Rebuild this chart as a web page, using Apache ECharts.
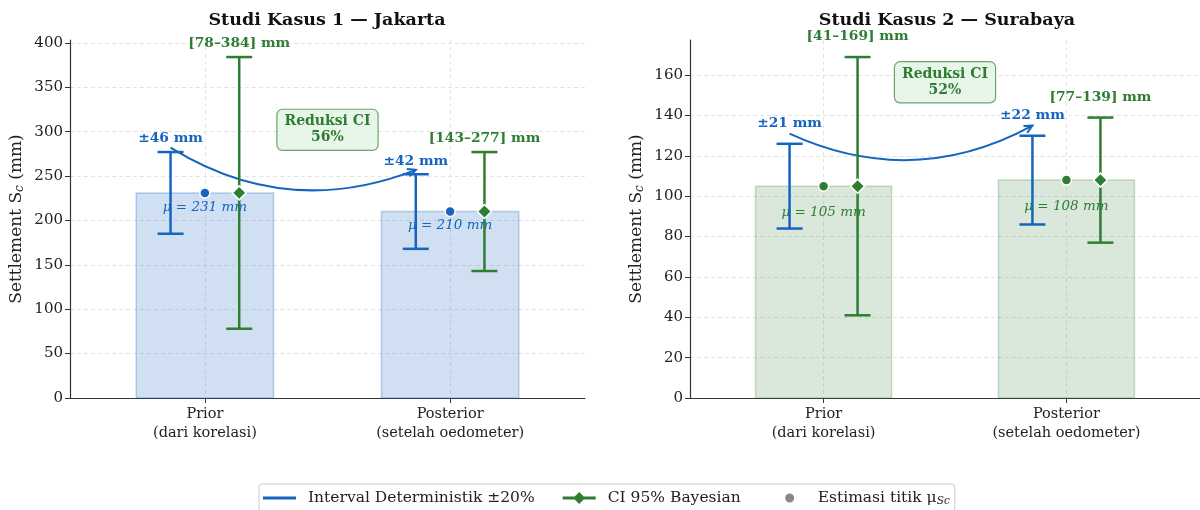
<!DOCTYPE html>
<html>
<head>
<meta charset="utf-8">
<title>Studi Kasus Settlement</title>
<script src="https://cdn.jsdelivr.net/npm/echarts@6/dist/echarts.min.js"></script>
<style>
  html, body { margin: 0; padding: 0; background: #fff; }
  #chart { width: 1200px; height: 510px; }
</style>
</head>
<body>
<div id="chart"></div>
<script>
const categories = ['Prior\n(dari korelasi)', 'Posterior\n(setelah oedometer)'];
const panelTitles = ['Studi Kasus 1 — Jakarta', 'Studi Kasus 2 — Surabaya'];

const muJakarta = [231, 210];
const detHalfJakarta = [46, 42];
const ciLowJakarta = [78, 143];
const ciHighJakarta = [384, 277];

const muSurabaya = [105, 108];
const detHalfSurabaya = [21, 22];
const ciLowSurabaya = [41, 77];
const ciHighSurabaya = [169, 139];

const ciReduction = [56, 52];

const DET_NAME = 'Interval Deterministik ±20%';
const CI_NAME = 'CI 95% Bayesian';
const DOT_NAME = 'Estimasi titik μSc';

const BLUE = '#1565c0';
const GREEN = '#2e7d32';
const SERIF = "'DejaVu Serif', serif";
const DET_SHIFT = -0.14;
const CI_SHIFT = 0.14;

const panels = [
  {
    mu: muJakarta, half: detHalfJakarta, lo: ciLowJakarta, hi: ciHighJakarta, reduction: ciReduction[0],
    color: BLUE, fill: 'rgba(21,101,192,0.2)', edge: 'rgba(21,101,192,0.28)',
    yMax: 403.2, yStep: 50, left: 70, width: 515, titleX: 327,
    detLift: 15, ciLift: 15, muDrop: 16, arrowLift: 5, box: [0.5, 302]
  },
  {
    mu: muSurabaya, half: detHalfSurabaya, lo: ciLowSurabaya, hi: ciHighSurabaya, reduction: ciReduction[1],
    color: GREEN, fill: 'rgba(46,125,50,0.18)', edge: 'rgba(46,125,50,0.25)',
    yMax: 177.45, yStep: 20, left: 690, width: 514, titleX: 947,
    detLift: 10, ciLift: 10, muDrop: 13, arrowLift: 5, box: [0.5, 156.5]
  }
];

function textStyle(color, size, weight, style) {
  return {
    fill: color, fontSize: size, fontWeight: weight || 'normal', fontStyle: style || 'normal',
    fontFamily: SERIF, align: 'center', verticalAlign: 'middle'
  };
}

function barItem(panel) {
  return (params, api) => {
    const x = api.value(0), mu = api.value(1);
    const tl = api.coord([x - 0.28, mu]);
    const br = api.coord([x + 0.28, 0]);
    return {
      type: 'rect',
      shape: { x: tl[0], y: tl[1], width: br[0] - tl[0], height: br[1] - tl[1] },
      style: { fill: panel.fill, stroke: panel.edge, lineWidth: 1.5 }
    };
  };
}

function muTextItem(panel) {
  return (params, api) => {
    const x = api.value(0), mu = api.value(1);
    const p = api.coord([x, mu - panel.muDrop]);
    return {
      type: 'text', x: p[0], y: p[1],
      style: Object.assign({ text: 'μ = ' + mu + ' mm' }, textStyle(panel.color, 13.5, 'normal', 'italic'))
    };
  };
}

function errorBarItem(color, labelOf, lift) {
  return (params, api) => {
    const x = api.value(0), lo = api.value(1), hi = api.value(2);
    const pLo = api.coord([x, lo]);
    const pHi = api.coord([x, hi]);
    const pLab = api.coord([x, hi + lift]);
    const line = { stroke: color, lineWidth: 2.5 };
    return {
      type: 'group',
      children: [
        { type: 'line', shape: { x1: pLo[0], y1: pLo[1], x2: pHi[0], y2: pHi[1] }, style: line },
        { type: 'line', shape: { x1: pLo[0] - 13, y1: pLo[1], x2: pLo[0] + 13, y2: pLo[1] }, style: line },
        { type: 'line', shape: { x1: pHi[0] - 13, y1: pHi[1], x2: pHi[0] + 13, y2: pHi[1] }, style: line },
        {
          type: 'text', x: pLab[0], y: pLab[1],
          style: Object.assign({ text: labelOf(params.dataIndex, lo, hi) }, textStyle(color, 13.8, 'bold'))
        }
      ]
    };
  };
}

function arrowItem(color) {
  return (params, api) => {
    const a = api.coord([api.value(0), api.value(1)]);
    const b = api.coord([api.value(2), api.value(3)]);
    const dx = b[0] - a[0], dy = b[1] - a[1];
    const c = [(a[0] + b[0]) / 2 - 0.25 * dy, (a[1] + b[1]) / 2 + 0.25 * dx];
    let ux = b[0] - c[0], uy = b[1] - c[1];
    const n = Math.hypot(ux, uy);
    ux /= n; uy /= n;
    const head = (ang) => {
      const cs = Math.cos(ang), sn = Math.sin(ang);
      return [b[0] - 9 * (ux * cs - uy * sn), b[1] - 9 * (ux * sn + uy * cs)];
    };
    return {
      type: 'group',
      children: [
        {
          type: 'bezierCurve',
          shape: { x1: a[0], y1: a[1], x2: b[0], y2: b[1], cpx1: c[0], cpy1: c[1] },
          style: { stroke: color, lineWidth: 2, fill: 'none' }
        },
        {
          type: 'polyline',
          shape: { points: [head(0.45), b, head(-0.45)] },
          style: { stroke: color, lineWidth: 2, fill: 'none' }
        }
      ]
    };
  };
}

function boxItem(panel) {
  return (params, api) => {
    const p = api.coord([api.value(0), api.value(1)]);
    return {
      type: 'text', x: p[0], y: p[1],
      style: Object.assign({
        text: 'Reduksi CI\n' + panel.reduction + '%',
        lineHeight: 16,
        backgroundColor: '#e8f5e9',
        borderColor: 'rgba(46,125,50,0.7)',
        borderWidth: 1.2,
        borderRadius: 5,
        padding: [4, 7]
      }, textStyle(GREEN, 14, 'bold'))
    };
  };
}

const grids = [], xAxes = [], yAxes = [], series = [], titles = [];

panels.forEach((panel, p) => {
  grids.push({ left: panel.left, width: panel.width, top: 40, height: 358 });
  titles.push({
    text: panelTitles[p], left: panel.titleX, top: 11, padding: 0, textAlign: 'center',
    textStyle: { fontFamily: SERIF, fontSize: 17.5, fontWeight: 'bold', color: '#111' }
  });
  xAxes.push({
    type: 'value', gridIndex: p, min: -0.55, max: 1.55,
    axisLine: { show: true, onZero: false, lineStyle: { color: '#333', width: 1.2 } },
    axisTick: { show: true, customValues: [0, 1], length: 5, lineStyle: { color: '#333' } },
    axisLabel: {
      customValues: [0, 1], margin: 7, color: '#222', fontFamily: SERIF, fontSize: 14.5, lineHeight: 19,
      formatter: (v) => categories[Math.round(v)]
    },
    splitLine: { show: true, lineStyle: { color: '#ddd', type: [4, 3], width: 0.8 } }
  });
  yAxes.push({
    type: 'value', gridIndex: p, min: 0, max: panel.yMax, interval: panel.yStep,
    name: 'Settlement S{sub|c} (mm)', nameLocation: 'middle', nameGap: 44, nameRotate: 90,
    nameTextStyle: {
      fontFamily: SERIF, fontSize: 17, color: '#222',
      rich: { sub: { fontFamily: SERIF, fontSize: 12, fontStyle: 'italic', color: '#222', padding: [6, 0, 0, 0] } }
    },
    axisLine: { show: true, onZero: false, lineStyle: { color: '#333', width: 1.2 } },
    axisTick: { show: true, length: 5, lineStyle: { color: '#333' } },
    axisLabel: {
      color: '#222', fontFamily: SERIF, fontSize: 15, margin: 7, showMaxLabel: false,
      formatter: (v) => (v % panel.yStep === 0 ? String(v) : '')
    },
    splitLine: { show: true, showMaxLine: false, lineStyle: { color: '#ddd', type: [4, 3], width: 0.8 } }
  });

  const xIdx = { xAxisIndex: p, yAxisIndex: p };
  const muData = [0, 1].map((x, i) => [x, panel.mu[i]]);

  series.push(Object.assign({
    type: 'custom', name: 'bar' + p, renderItem: barItem(panel), data: muData, encode: { x: 0, y: 1 }, z: 1
  }, xIdx));
  series.push(Object.assign({
    type: 'custom', name: 'mu' + p, renderItem: muTextItem(panel), data: muData, encode: { x: 0, y: 1 }, z: 2
  }, xIdx));
  series.push(Object.assign({
    type: 'custom', name: 'arrow' + p, renderItem: arrowItem(BLUE), z: 3,
    data: [[DET_SHIFT, panel.mu[0] + panel.half[0] + panel.arrowLift,
            1 + DET_SHIFT, panel.mu[1] + panel.half[1] + panel.arrowLift]],
    encode: { x: [0, 2], y: [1, 3] }
  }, xIdx));
  series.push(Object.assign({
    type: 'custom', name: DET_NAME, itemStyle: { color: BLUE }, z: 4,
    renderItem: errorBarItem(BLUE, (i) => '±' + panel.half[i] + ' mm', panel.detLift),
    data: [0, 1].map((x, i) => [x + DET_SHIFT, panel.mu[i] - panel.half[i], panel.mu[i] + panel.half[i]]),
    encode: { x: 0, y: [1, 2] }
  }, xIdx));
  series.push(Object.assign({
    type: 'custom', name: CI_NAME, itemStyle: { color: GREEN }, z: 4,
    renderItem: errorBarItem(GREEN, (i, lo, hi) => '[' + lo + '–' + hi + '] mm', panel.ciLift),
    data: [0, 1].map((x, i) => [x + CI_SHIFT, panel.lo[i], panel.hi[i]]),
    encode: { x: 0, y: [1, 2] }
  }, xIdx));
  series.push(Object.assign({
    type: 'scatter', name: DOT_NAME, symbol: 'circle', symbolSize: 10, z: 5,
    itemStyle: { color: panel.color, borderColor: '#fff', borderWidth: 1.5, opacity: 1 },
    data: muData
  }, xIdx));
  series.push(Object.assign({
    type: 'scatter', name: CI_NAME, symbol: 'diamond', symbolSize: 14, z: 5,
    itemStyle: { color: GREEN, borderColor: '#fff', borderWidth: 1.5, opacity: 1 },
    data: [0, 1].map((x, i) => [x + CI_SHIFT, panel.mu[i]])
  }, xIdx));
  series.push(Object.assign({
    type: 'custom', name: 'box' + p, renderItem: boxItem(panel), z: 6,
    data: [panel.box], encode: { x: 0, y: 1 }
  }, xIdx));
});

const chart = echarts.init(document.getElementById('chart'), null, { renderer: 'canvas' });
chart.setOption({
  animation: false,
  backgroundColor: '#fff',
  title: titles,
  grid: grids,
  xAxis: xAxes,
  yAxis: yAxes,
  legend: {
    left: 259, top: 484, selectedMode: false,
    itemWidth: 33, itemHeight: 12, itemGap: 28,
    padding: [6, 5, 8, 4],
    borderColor: '#ccc', borderWidth: 1, borderRadius: 3, backgroundColor: '#fff',
    textStyle: {
      fontFamily: SERIF, fontSize: 15.5, color: '#222', padding: [0, 0, 0, 7],
      rich: { sub: { fontFamily: SERIF, fontSize: 10.5, fontStyle: 'italic', color: '#222', padding: [7, 0, 0, 0] } }
    },
    formatter: (name) => (name === DOT_NAME ? 'Estimasi titik μ{sub|Sc}' : name),
    data: [
      { name: DET_NAME, icon: 'path://M0,0L33,0L33,3L0,3Z' },
      { name: CI_NAME, icon: 'path://M0,4.5L12,4.5L16.5,0L21,4.5L33,4.5L33,7.5L21,7.5L16.5,12L12,7.5L0,7.5Z', itemStyle: { color: GREEN, borderWidth: 0 } },
      {
        name: DOT_NAME,
        icon: 'path://M0,6L0.01,6L0,6.01Z M33,6L32.99,6L33,6.01Z M16.5,6A4.5,4.5 0 1 0 25.5,6A4.5,4.5 0 1 0 16.5,6Z',
        itemStyle: { color: '#888', borderWidth: 0 },
        textStyle: { padding: [0, 0, 0, 11] }
      }
    ]
  },
  series: series
});
</script>
</body>
</html>
